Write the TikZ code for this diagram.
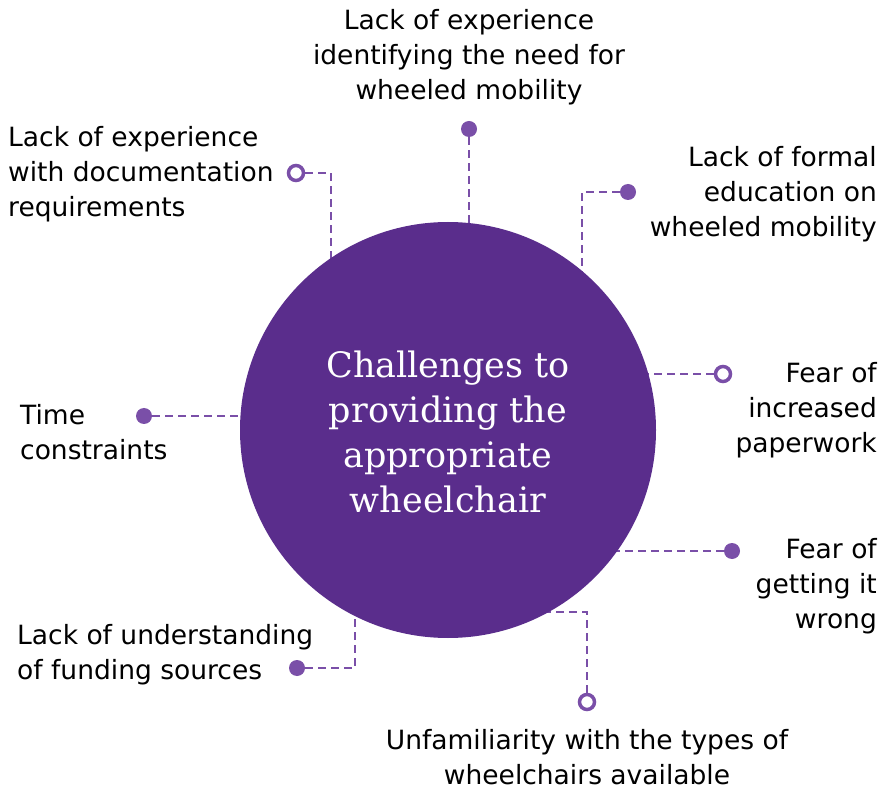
\documentclass[tikz,border=0pt]{standalone}
\usepackage{fontspec}
\setmainfont{DejaVu Sans}
\newfontfamily\titlefont{DejaVu Serif}
\definecolor{hubpurple}{HTML}{5A2D8C}
\definecolor{accent}{HTML}{7A4FA8}

\begin{document}
\begin{tikzpicture}[x=1pt,y=-1pt,
  labeltext/.style={font=\fontsize{26.5}{35}\selectfont, inner sep=0pt, text=black},
  dotfill/.style={circle, fill=accent, minimum size=16pt, inner sep=0pt},
  dotring/.style={circle, draw=accent, line width=3.5pt, fill=white, minimum size=15pt, inner sep=0pt},
  link/.style={draw=accent, line width=2.8pt, dash pattern=on 8pt off 5pt},
]
\useasboundingbox (0,0) rectangle (889,791);
\fill[white] (0,0) rectangle (889,791);

% centre of the hub
\coordinate (c) at (448,430);

% markers at the outer ends of the connectors
\node[dotring] (o1) at (296,173) {};
\node[dotfill] (d2) at (469,129) {};
\node[dotfill] (d3) at (628,192) {};
\node[dotring] (o4) at (723,374) {};
\node[dotfill] (d5) at (732,551) {};
\node[dotfill] (d6) at (144,416) {};
\node[dotfill] (d7) at (297,668) {};
\node[dotring] (o8) at (587,702) {};

% elbow points
\coordinate (k1) at (331,173);
\coordinate (k3) at (582,192);
\coordinate (k7) at (355,668);
\coordinate (k8) at (587,612);

% dashed connectors (their inner ends are hidden under the hub)
\draw[link] (o1) -- (k1) -- (k1 |- c);
\draw[link] (d2) -- (d2 |- c);
\draw[link] (d3) -- (k3) -- (k3 |- c);
\draw[link] (o4) -- (o4 -| c);
\draw[link] (d5) -- (d5 -| c);
\draw[link] (d6) -- (d6 -| c);
\draw[link] (d7) -- (k7) -- (k7 |- c);
\draw[link] (o8) -- (k8) -- (k8 -| c);

% hub
\node[circle, fill=hubpurple, minimum size=416pt, inner sep=0pt] (hub) at (c) {};
\node[font=\titlefont\fontsize{35}{45}\selectfont, text=white, align=center,
      anchor=base, inner sep=0pt] (title) at (448,512)
  {Challenges to\\providing the\\appropriate\\wheelchair};

% labels (anchored at the baseline of their last line)
\node[labeltext, align=left, anchor=base west] (t1) at (8,217)
  {Lack of experience\\with documentation\\requirements};
\node[labeltext, align=center, anchor=base] (t2) at (469,100)
  {Lack of experience\\identifying the need for\\wheeled mobility};
\node[labeltext, align=right, anchor=base east] (t3) at (877,237)
  {Lack of formal\\education on\\wheeled mobility};
\node[labeltext, align=right, anchor=base east] (t4) at (877,452)
  {Fear of\\increased\\paperwork};
\node[labeltext, align=right, anchor=base east] (t5) at (877,628)
  {Fear of\\getting it\\wrong};
\node[labeltext, align=left, anchor=base west] (t6) at (20,459)
  {Time\\constraints};
\node[labeltext, align=left, anchor=base west] (t7) at (17,679)
  {Lack of understanding\\of funding sources};
\node[labeltext, align=center, anchor=base] (t8) at (587,784)
  {Unfamiliarity with the types of\\wheelchairs available};
\end{tikzpicture}
\end{document}
